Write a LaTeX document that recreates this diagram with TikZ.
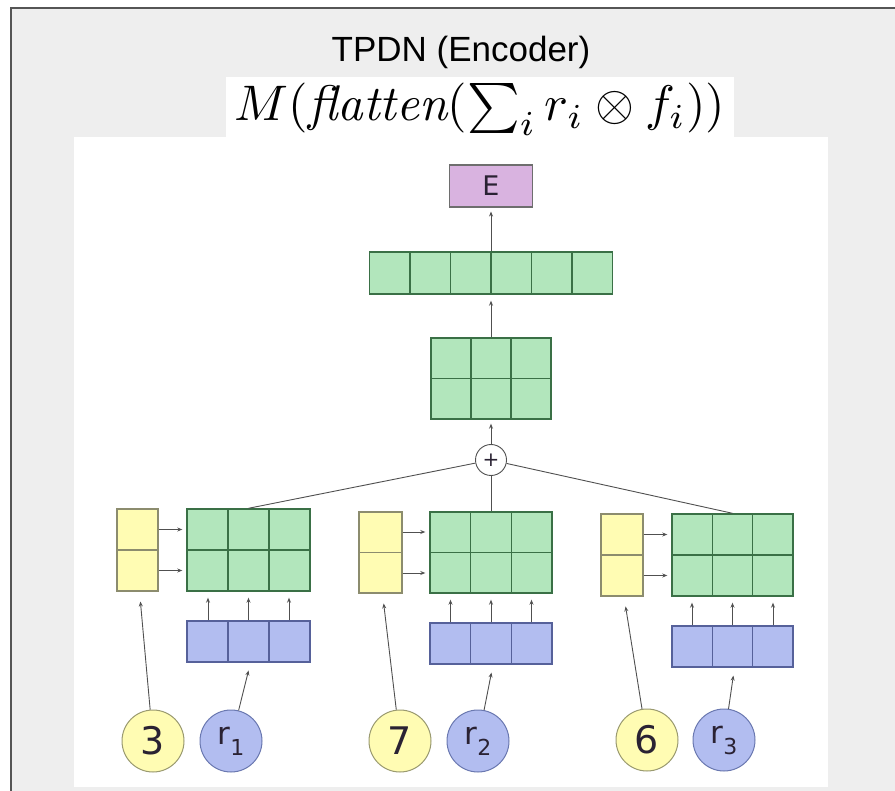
\documentclass[tikz,border=0pt]{standalone}
\usepackage{fontspec}
\usepackage{graphicx}
\usetikzlibrary{arrows.meta,calc}
\newfontfamily\titlefont{Liberation Sans}
\newfontfamily\labelfont{DejaVu Sans}

\definecolor{pagegray}{HTML}{EEEEEE}
\definecolor{framegray}{HTML}{555555}
\definecolor{gfill}{HTML}{B2E6BC}
\definecolor{gdraw}{HTML}{3A7046}
\definecolor{yfill}{HTML}{FFFCB3}
\definecolor{ydraw}{HTML}{8C8C6E}
\definecolor{bfill}{HTML}{B2BDF0}
\definecolor{bdraw}{HTML}{56619A}
\definecolor{pfill}{HTML}{D9B3E0}
\definecolor{pdraw}{HTML}{6E6E6E}
\definecolor{ycdraw}{HTML}{9A9A70}
\definecolor{bcdraw}{HTML}{6A78B0}
\definecolor{conn}{HTML}{505050}
\definecolor{labelink}{HTML}{2A2233}

\begin{document}
\begin{tikzpicture}[x=1pt,y=-1pt,
  block/.style={rectangle, inner sep=0pt, line width=1.4pt},
  gblock/.style={block, fill=gfill, draw=gdraw},
  yblock/.style={block, fill=yfill, draw=ydraw, line width=1.1pt},
  bblock/.style={block, fill=bfill, draw=bdraw},
  pblock/.style={block, fill=pfill, draw=pdraw, line width=1.1pt},
  size/.style 2 args={minimum width=#1pt, minimum height=#2pt},
  cells/.style n args={3}{path picture={
    \foreach \k in {1,...,#1}{\ifnum\k<#1
      \draw[#3, line width=1.4pt]
        ($(path picture bounding box.north west)!\k/#1!(path picture bounding box.north east)$) --
        ($(path picture bounding box.south west)!\k/#1!(path picture bounding box.south east)$);\fi}
    \foreach \k in {1,...,#2}{\ifnum\k<#2
      \draw[#3, line width=1.4pt]
        ($(path picture bounding box.north west)!\k/#2!(path picture bounding box.south west)$) --
        ($(path picture bounding box.north east)!\k/#2!(path picture bounding box.south east)$);\fi}
  }},
  ycirc/.style={circle, minimum size=62pt, inner sep=0pt, fill=yfill, draw=ycdraw,
    line width=1pt, text=labelink, font=\labelfont\fontsize{38}{38}\selectfont},
  bcirc/.style={circle, minimum size=62pt, inner sep=0pt, fill=bfill, draw=bcdraw,
    line width=1pt, text=labelink, font=\labelfont\fontsize{31}{31}\selectfont},
  link/.style={draw=conn, line width=0.9pt},
  arr/.style={link, -{Stealth[length=5pt,width=4pt]}}
]
\useasboundingbox (0,0) rectangle (895,791);

% page, frame and white panels
\fill[white] (0,0) rectangle (895,791);
\fill[pagegray] (11,8) rectangle (895,791);
\draw[framegray, line width=2.5pt] (11,791) -- (11,8) -- (895,8);
\fill[white] (74,137) rectangle (828,787);
\fill[white] (226,77) rectangle (734,137);

% heading and formula
\node[anchor=base, inner sep=0pt, font=\titlefont\fontsize{35}{40}\selectfont] (title)
  at (461,62) {TPDN (Encoder)};
\node[anchor=base, inner sep=0pt] (formula)
  at (480,121) {\resizebox{490pt}{!}{$M(\textit{flatten}(\sum_i r_i \otimes f_i))$}};

% upper stack
\node[pblock, size={83}{42}, text=labelink, font=\labelfont\fontsize{27}{27}\selectfont] (E) at (491,186) {E};
\node[gblock, size={243}{42}, cells={6}{1}{gdraw}] (flat) at (491,273) {};
\node[gblock, size={120}{81}, cells={3}{2}{gdraw}] (sum) at (491,378.5) {};
\node[circle, minimum size=31pt, inner sep=0pt, fill=white, draw=conn, line width=0.9pt,
  font=\labelfont\fontsize{20}{20}\selectfont, text=labelink] (plus) at (491,460) {+};

% group 1
\node[yblock, size={41}{82}, cells={1}{2}{ydraw}] (y1) at (137.5,550) {};
\node[gblock, size={123}{82}, cells={3}{2}{gdraw}] (g1) at (248.5,550) {};
\node[bblock, size={123}{41}, cells={3}{1}{bdraw}] (b1) at (248.5,641.5) {};
\node[ycirc] (f1) at (153,741) {3};
\node[bcirc] (r1) at (231,741) {r\raisebox{-11pt}{\fontsize{22}{22}\selectfont 1}};

% group 2
\node[yblock, size={43}{81}, cells={1}{2}{ydraw}] (y2) at (380.5,552.5) {};
\node[gblock, size={122}{81}, cells={3}{2}{gdraw}] (g2) at (491,552.5) {};
\node[bblock, size={122}{41}, cells={3}{1}{bdraw}] (b2) at (491,643.5) {};
\node[ycirc] (f2) at (400,741) {7};
\node[bcirc] (r2) at (478,741) {r\raisebox{-11pt}{\fontsize{22}{22}\selectfont 2}};

% group 3
\node[yblock, size={42}{82}, cells={1}{2}{ydraw}] (y3) at (622,555) {};
\node[gblock, size={121}{82}, cells={3}{2}{gdraw}] (g3) at (732.5,555) {};
\node[bblock, size={121}{41}, cells={3}{1}{bdraw}] (b3) at (732.5,646.5) {};
\node[ycirc] (f3) at (647,740) {6};
\node[bcirc] (r3) at (724,740) {r\raisebox{-11pt}{\fontsize{22}{22}\selectfont 3}};

% summation and output path
\draw[link] (plus) -- (g1.north);
\draw[link] (plus) -- (g2.north);
\draw[link] (plus) -- (g3.north);
\draw[arr, shorten >=4pt] (plus) -- (sum.south);
\draw[arr, shorten >=6pt] (sum.north) -- (flat.south);
\draw[arr, shorten >=4pt] (flat.north) -- (E.south);

% per-group inputs
\foreach \i in {1,2,3}{
  \draw[arr, shorten >=4pt] ([yshift=20.5pt]y\i.east) -- ([yshift=20.5pt]g\i.west);
  \draw[arr, shorten >=4pt] ([yshift=-20.5pt]y\i.east) -- ([yshift=-20.5pt]g\i.west);
  \foreach \dx in {-40.5,0,40.5}{
    \draw[arr, shorten >=6pt] ([xshift=\dx pt]b\i.north) -- ([xshift=\dx pt]g\i.south);
  }
  \draw[arr, shorten >=10pt] (f\i) -- ([xshift=2pt]y\i.south);
  \draw[arr, shorten >=8pt] (r\i) -- ([xshift=2pt]b\i.south);
}
\end{tikzpicture}
\end{document}
